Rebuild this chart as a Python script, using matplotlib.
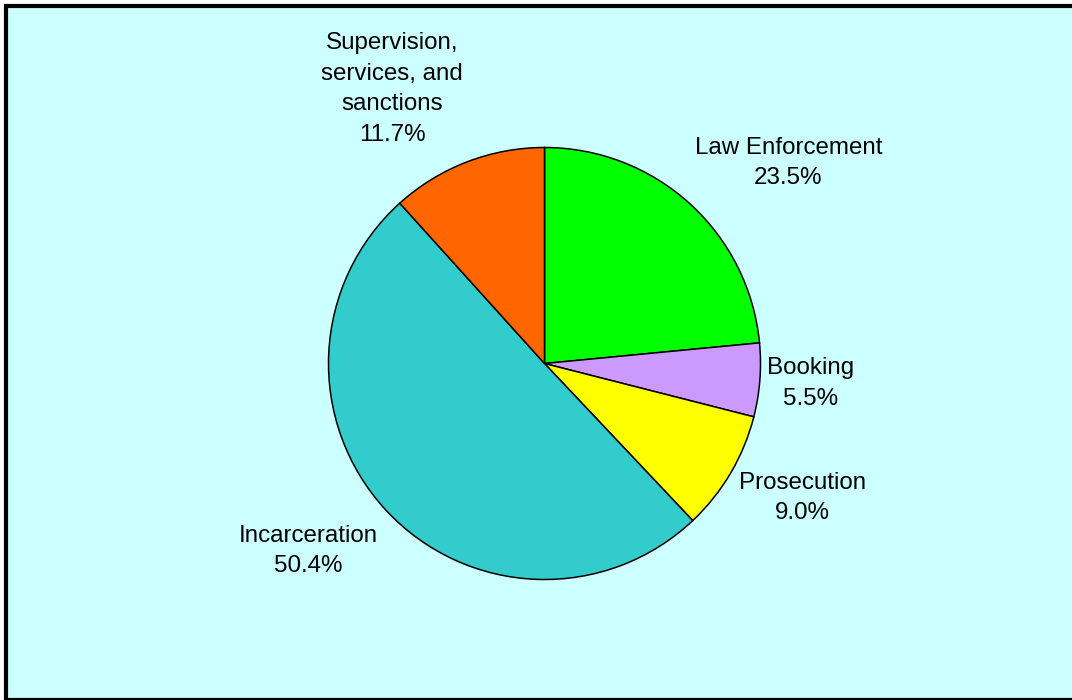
import matplotlib
matplotlib.use("Agg")
import matplotlib.pyplot as plt
from matplotlib.patches import Rectangle

plt.rcParams["font.family"] = ["Liberation Sans", "DejaVu Sans"]

# spending shares, clockwise from 12 o'clock
labels = ["Law Enforcement", "Booking", "Prosecution", "Incarceration",
          "Supervision,\nservices, and\nsanctions"]
shares = [23.5, 5.5, 9.0, 50.4, 11.7]
colors = ["#00FF00", "#CC99FF", "#FFFF00", "#33CCCC", "#FF6600"]

# label centres, in pie radii from the centre
label_pos = [(1.129, 0.929), (1.230, -0.092), (1.194, -0.622),
             (-1.092, -0.869), (-0.705, 1.270)]

W, H, DPI = 1072, 700, 100
R = 216.0                       # pie radius in pixels
CX, CY = 544.5, 363.5           # pie centre in pixels (from top-left)

fig = plt.figure(figsize=(W / DPI, H / DPI), dpi=DPI)
fig.patch.set_facecolor("white")

# cyan panel with a heavy black frame (runs off the right edge)
fig.patches.append(Rectangle((6 / W, 0.5 / H), 1.2, (H - 6.5) / H,
                             transform=fig.transFigure, facecolor="#CCFFFF",
                             edgecolor="black", linewidth=3, zorder=-10))

ax = fig.add_axes([0, 0, 1, 1])
ax.set_facecolor("none")
ax.pie(shares, colors=colors, startangle=90, counterclock=False,
       wedgeprops=dict(edgecolor="black", linewidth=1.1))
ax.set_xlim(-CX / R, (W - CX) / R)
ax.set_ylim(-(H - CY) / R, CY / R)
ax.set_aspect("equal")
ax.axis("off")

for lab, v, (x, y) in zip(labels, shares, label_pos):
    ax.text(x, y, f"{lab}\n{v:.1f}%", ha="center", va="center",
            fontsize=17.4, color="black", linespacing=1.5)

fig.savefig("out.png", dpi=DPI)
